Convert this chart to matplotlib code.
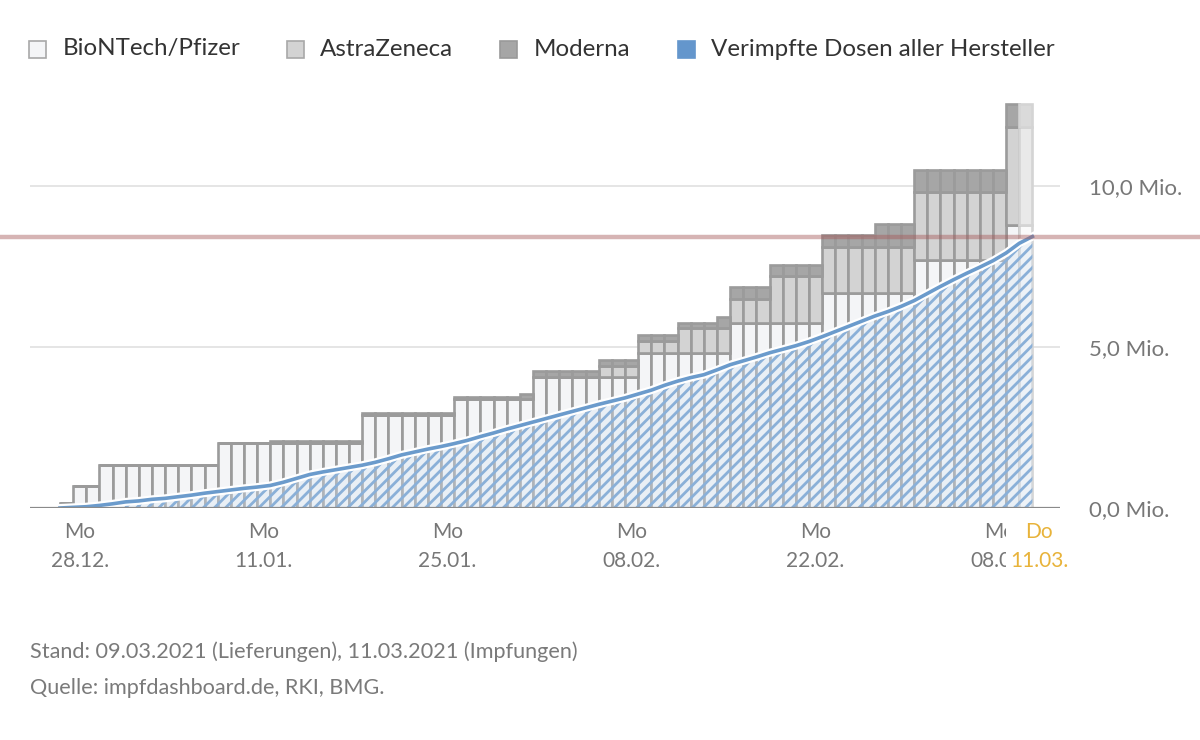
import numpy as np
import matplotlib
matplotlib.use('Agg')
from matplotlib import pyplot as plt
from matplotlib.patches import Rectangle
from matplotlib import patheffects as pe

plt.rcParams['font.family'] = ['Lato', 'DejaVu Sans']
plt.rcParams['hatch.linewidth'] = 2.0

# Lieferungen (kumuliert, Mio. Dosen) - je Stufe: Anzahl Tage und Stand
step_days = [1, 2, 9, 4, 7, 7, 5, 1, 5, 3, 3, 3, 1, 3, 4, 4, 3, 7, 2]
biontech = [0.15, 0.67, 1.34, 2.03, 2.03, 2.89, 3.38, 3.38, 4.07, 4.07,
            4.82, 4.82, 4.82, 5.74, 5.74, 6.67, 6.67, 7.70, 8.79]
astrazeneca = [0, 0, 0, 0, 0, 0, 0, 0, 0, 0.34,
               0.36, 0.76, 0.76, 0.76, 1.45, 1.45, 1.45, 2.10, 3.05]
moderna = [0, 0, 0, 0, 0.06, 0.06, 0.06, 0.15, 0.18, 0.18,
           0.18, 0.18, 0.36, 0.36, 0.36, 0.36, 0.70, 0.70, 0.71]

# verimpfte Dosen (kumuliert, Mio.) am Ende jedes Tages ab 27.12.
vaccinated = [0.02, 0.04, 0.08, 0.13, 0.19, 0.22, 0.27, 0.30, 0.35, 0.40,
              0.46, 0.51, 0.56, 0.61, 0.65, 0.70, 0.80, 0.92, 1.04, 1.12,
              1.19, 1.26, 1.33, 1.42, 1.53, 1.65, 1.74, 1.83, 1.91, 2.00,
              2.10, 2.22, 2.33, 2.45, 2.56, 2.67, 2.78, 2.89, 3.00, 3.11,
              3.22, 3.32, 3.42, 3.54, 3.66, 3.81, 3.94, 4.05, 4.14, 4.29,
              4.45, 4.57, 4.69, 4.82, 4.93, 5.04, 5.17, 5.32, 5.48, 5.64,
              5.80, 5.96, 6.10, 6.26, 6.44, 6.66, 6.88, 7.09, 7.29, 7.48,
              7.68, 7.92, 8.22, 8.43]

tick_days = [1, 15, 29, 43, 57, 71, 74]
tick_labels = ['Mo\n28.12.', 'Mo\n11.01.', 'Mo\n25.01.', 'Mo\n08.02.',
               'Mo\n22.02.', 'Mo\n08.03.', 'Do\n11.03.']
y_ticks = [0, 5, 10]
y_labels = ['0,0 Mio.', '5,0 Mio.', '10,0 Mio.']

W, H = 1200, 740
fig = plt.figure(figsize=(12, 7.4), dpi=100, facecolor='white')
# Achse in Pixelkoordinaten: x 30..1060, y 508 (0) nach oben, 32.2 px/Mio
ymax = 13.0
ax = fig.add_axes([30 / W, (H - 508) / H, 1030 / W, ymax * 32.2 / H])
ax.set_xlim(-2.78, 75.6)
ax.set_ylim(0, ymax)
for s in ax.spines.values():
    s.set_visible(False)

bio_d = np.repeat(biontech, step_days)
az_d = np.repeat(astrazeneca, step_days)
mod_d = np.repeat(moderna, step_days)
days = np.arange(len(bio_d))

for yv in y_ticks[1:]:
    ax.axhline(yv, color='#e3e3e3', lw=1.3, zorder=0)

ec = '#9b9b9b'
b1 = ax.bar(days, bio_d, 1.0, color='#f4f5f7', edgecolor=ec, lw=1.9, zorder=2)
b2 = ax.bar(days, az_d, 1.0, bottom=bio_d, color='#d3d3d3', edgecolor=ec, lw=1.9, zorder=2)
b3 = ax.bar(days, mod_d, 1.0, bottom=bio_d + az_d, color='#a6a6a6', edgecolor=ec, lw=1.9, zorder=2)
# letzter Tag heller
b1[-1].set_facecolor('#fafafa')
b2[-1].set_facecolor('#e9e9e9')
b3[-1].set_facecolor('#dadada')
for b in (b1[-1], b2[-1], b3[-1]):
    b.set_edgecolor('#d4d4d4')

x_edges = np.arange(len(vaccinated) + 1) - 0.5
v_line = np.concatenate([[0], vaccinated])
ax.fill_between(x_edges, 0, v_line, facecolor='#d6e4f3', alpha=0.35, lw=0, zorder=3)
ax.fill_between(x_edges, 0, v_line, facecolor='none', edgecolor='#8ab0d8', hatch='///', lw=0, zorder=3)
ax.plot(x_edges, v_line, color='#6b9bcc', lw=2.6, zorder=4,
        path_effects=[pe.Stroke(linewidth=5.8, foreground='white'), pe.Normal()])

ax.axhline(0, color='#8a8a8a', lw=1.6, zorder=4)
ax.axhline(vaccinated[-1], xmin=-30 / 1030, xmax=1170 / 1030, color='#a55a5a',
           alpha=0.45, lw=3.2, zorder=5, clip_on=False)

ax.set_xticks(tick_days, tick_labels)
ax.tick_params(axis='x', length=0, pad=10, labelsize=15, labelcolor='#777777')
for lab in ax.get_xticklabels():
    lab.set_linespacing(1.55)
last = ax.get_xticklabels()[-1]
last.set_color('#e8b33a')
last.set_bbox(dict(facecolor='white', edgecolor='none', pad=3))
ax.set_yticks(y_ticks, y_labels)
ax.yaxis.tick_right()
ax.tick_params(axis='y', length=0, pad=21, labelsize=16, labelcolor='#777777')

# Legende
legend = [('BioNTech/Pfizer', '#f4f5f7', '#a8a8a8', 29, 63),
          ('AstraZeneca', '#d3d3d3', '#a8a8a8', 287, 320),
          ('Moderna', '#a6a6a6', '#999999', 500, 534),
          ('Verimpfte Dosen aller Hersteller', '#6496cc', '#6496cc', 678, 711)]
for name, fc, ecol, xs, xt in legend:
    fig.add_artist(Rectangle((xs / W, 1 - 58 / H), 17 / W, 17 / H, facecolor=fc,
                             edgecolor=ecol, lw=1.2, transform=fig.transFigure))
    fig.text(xt / W, 1 - 49 / H, name, fontsize=17.4, color='#333333', va='center')

fig.text(30 / W, 1 - 652 / H, 'Stand: 09.03.2021 (Lieferungen), 11.03.2021 (Impfungen)',
         fontsize=15.6, color='#7a7a7a', va='center')
fig.text(30 / W, 1 - 688 / H, 'Quelle: impfdashboard.de, RKI, BMG.',
         fontsize=15.6, color='#7a7a7a', va='center')

fig.savefig('out.png', dpi=100, facecolor='white')
